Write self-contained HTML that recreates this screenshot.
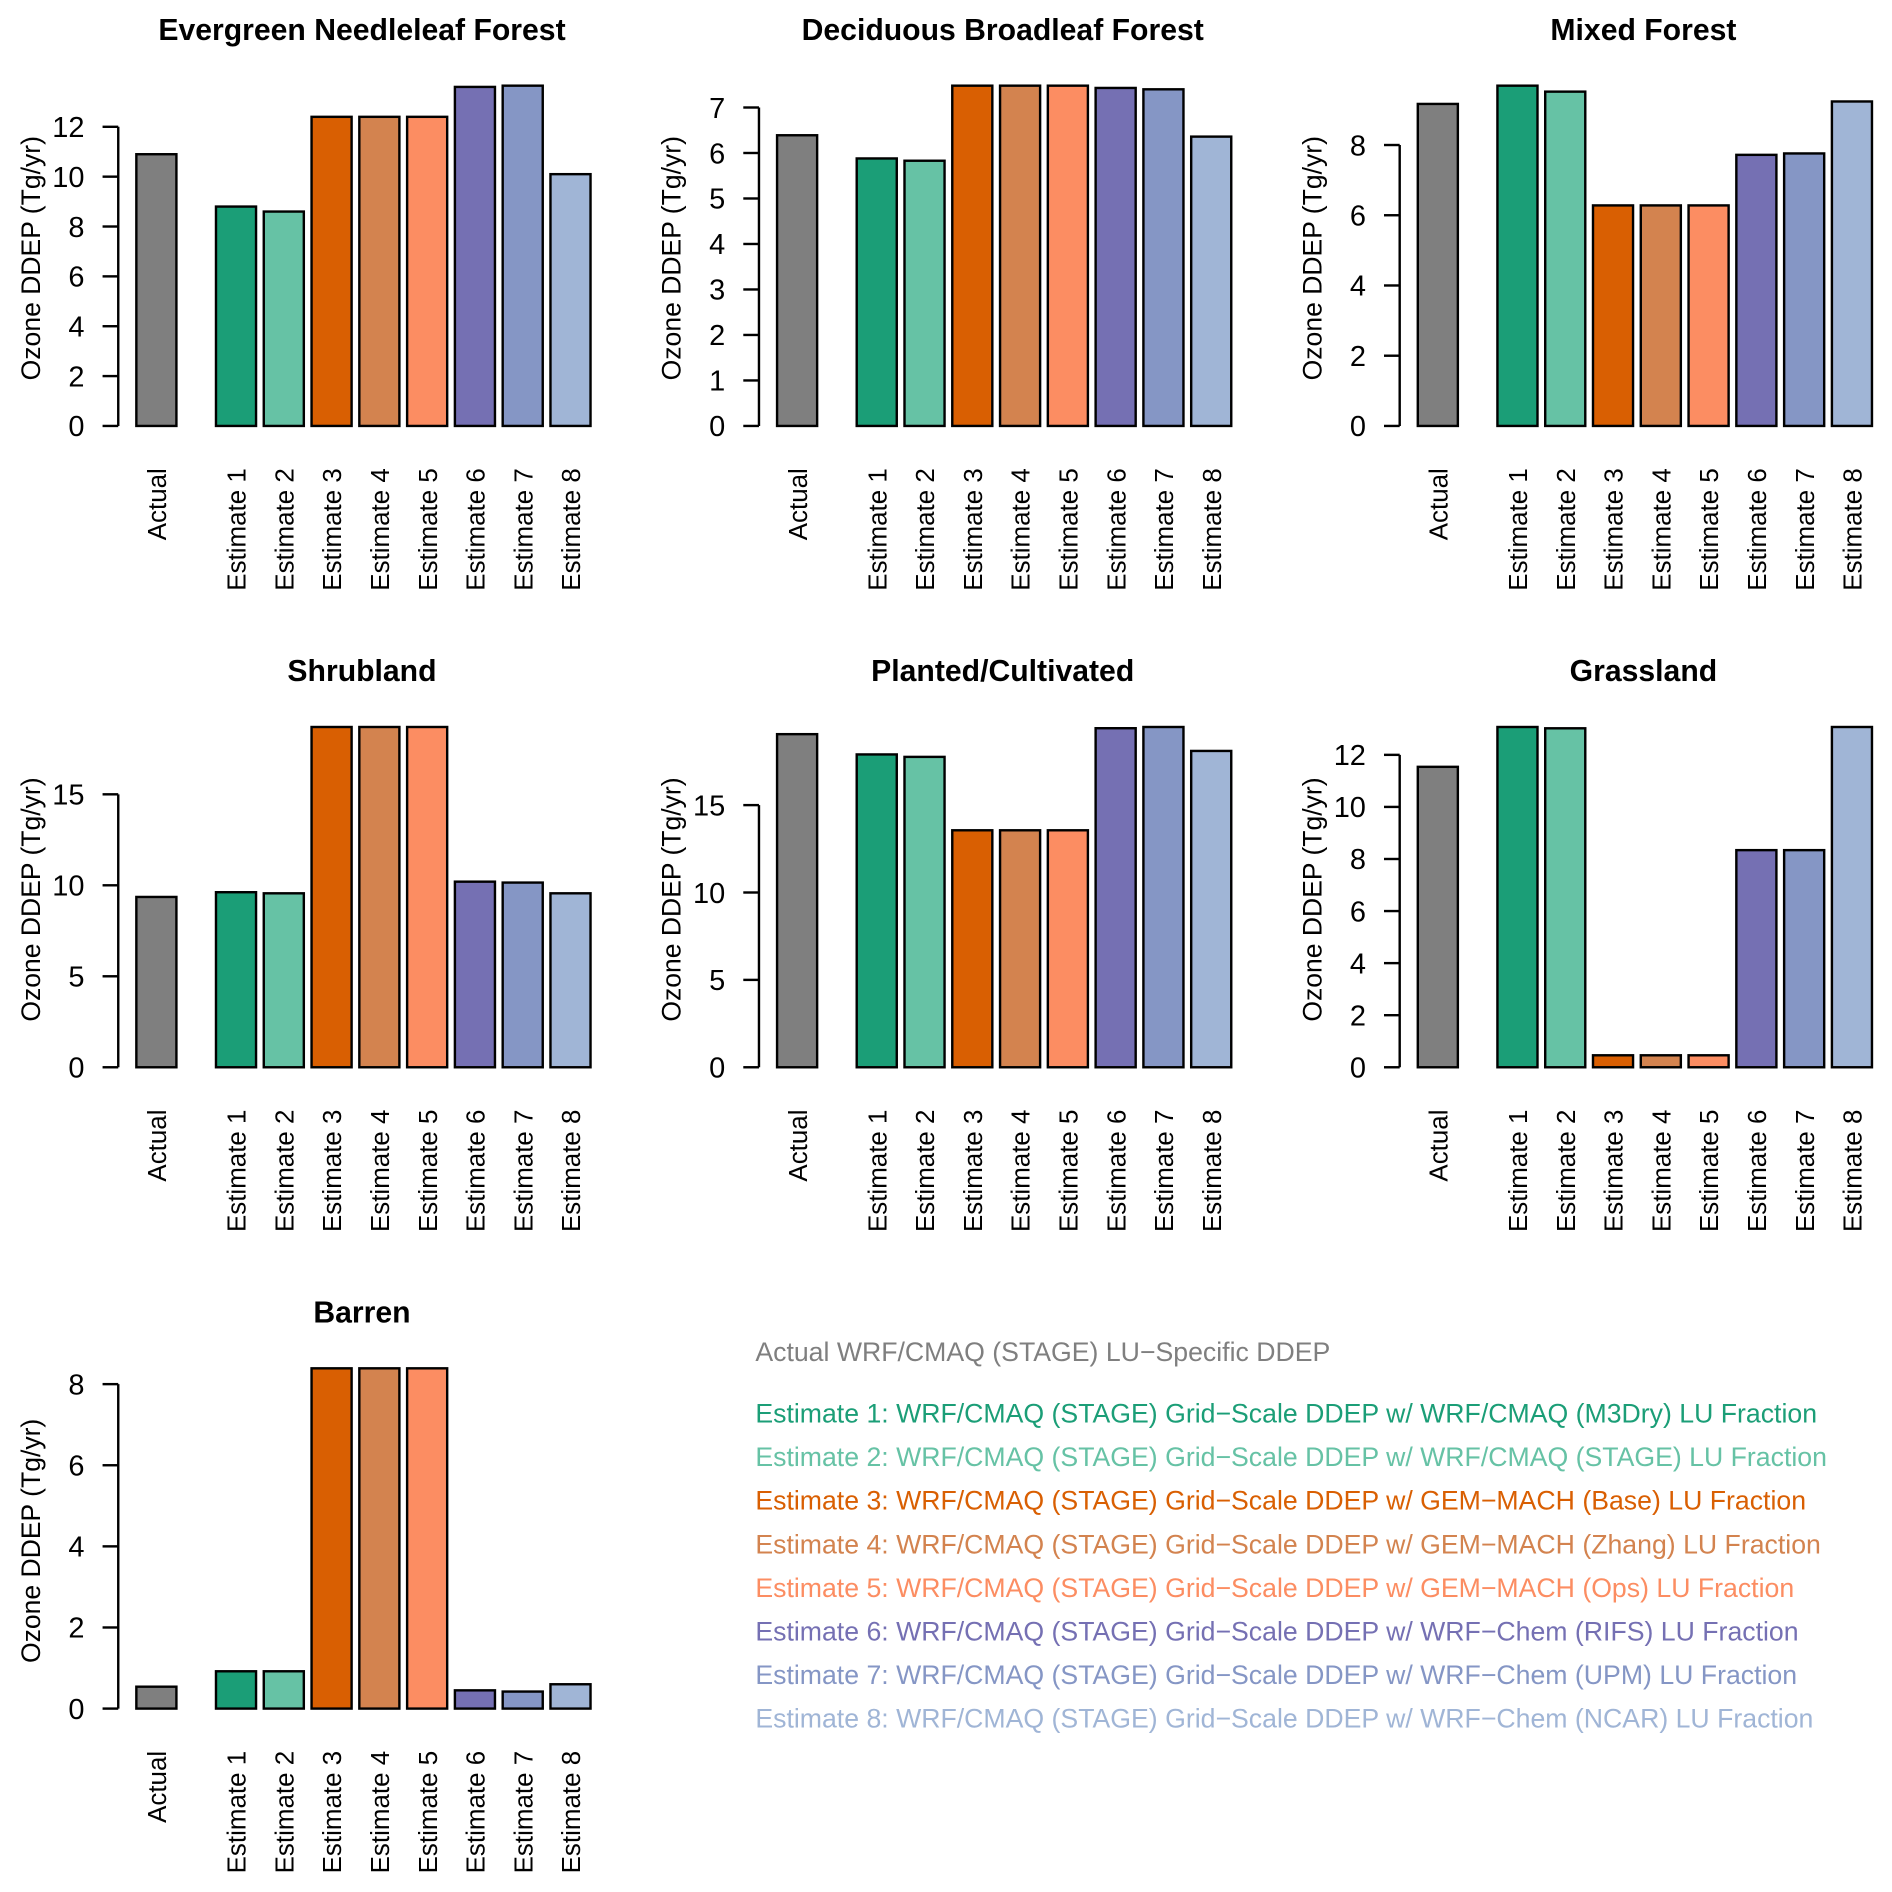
<!DOCTYPE html>
<html><head><meta charset="utf-8"><style>
html,body{margin:0;padding:0;background:#fff}
svg{display:block;font-family:"Liberation Sans",Arial,sans-serif}
</style></head><body>
<svg id="chart" width="1892" height="1892" viewBox="0 0 1568 1568" xmlns="http://www.w3.org/2000/svg"></svg>
<script>
const panelTitles = ["Evergreen Needleleaf Forest","Deciduous Broadleaf Forest","Mixed Forest","Shrubland","Planted/Cultivated","Grassland","Barren"];
const categories = ["Actual","Estimate 1","Estimate 2","Estimate 3","Estimate 4","Estimate 5","Estimate 6","Estimate 7","Estimate 8"];
const valsEvergreen = [10.9,8.8,8.6,12.4,12.4,12.4,13.6,13.65,10.1];
const valsDeciduous = [6.39,5.88,5.83,7.48,7.48,7.48,7.43,7.40,6.36];
const valsMixed = [9.17,9.69,9.52,6.28,6.28,6.28,7.72,7.76,9.24];
const valsShrub = [9.36,9.62,9.56,18.7,18.7,18.7,10.2,10.15,9.56];
const valsPlanted = [19.06,17.9,17.76,13.56,13.56,13.56,19.4,19.47,18.1];
const valsGrass = [11.54,13.07,13.02,0.46,0.46,0.46,8.34,8.34,13.07];
const valsBarren = [0.54,0.92,0.92,8.39,8.39,8.39,0.45,0.42,0.6];
const ticksEvergreen = [0,2,4,6,8,10,12];
const ticksDeciduous = [0,1,2,3,4,5,6,7];
const ticksMixed = [0,2,4,6,8];
const ticksShrub = [0,5,10,15];
const ticksPlanted = [0,5,10,15];
const ticksGrass = [0,2,4,6,8,10,12];
const ticksBarren = [0,2,4,6,8];
const legendLabels = ["Actual WRF/CMAQ (STAGE) LU\u2212Specific DDEP",
"Estimate 1: WRF/CMAQ (STAGE) Grid\u2212Scale DDEP w/ WRF/CMAQ (M3Dry) LU Fraction",
"Estimate 2: WRF/CMAQ (STAGE) Grid\u2212Scale DDEP w/ WRF/CMAQ (STAGE) LU Fraction",
"Estimate 3: WRF/CMAQ (STAGE) Grid\u2212Scale DDEP w/ GEM\u2212MACH (Base) LU Fraction",
"Estimate 4: WRF/CMAQ (STAGE) Grid\u2212Scale DDEP w/ GEM\u2212MACH (Zhang) LU Fraction",
"Estimate 5: WRF/CMAQ (STAGE) Grid\u2212Scale DDEP w/ GEM\u2212MACH (Ops) LU Fraction",
"Estimate 6: WRF/CMAQ (STAGE) Grid\u2212Scale DDEP w/ WRF\u2212Chem (RIFS) LU Fraction",
"Estimate 7: WRF/CMAQ (STAGE) Grid\u2212Scale DDEP w/ WRF\u2212Chem (UPM) LU Fraction",
"Estimate 8: WRF/CMAQ (STAGE) Grid\u2212Scale DDEP w/ WRF\u2212Chem (NCAR) LU Fraction"];
const colors = ["#7f7f7f","#1b9e77","#66c2a5","#d95f02","#d3834f","#fc8d62","#7570b3","#8596c5","#a0b5d6"];

const NS="http://www.w3.org/2000/svg";
const svg=document.getElementById('chart');
function mk(tag,attrs,parent){const e=document.createElementNS(NS,tag);for(const k in attrs)e.setAttribute(k,attrs[k]);(parent||svg).appendChild(e);return e;}

const panels=[[valsEvergreen,ticksEvergreen],[valsDeciduous,ticksDeciduous],[valsMixed,ticksMixed],[valsShrub,ticksShrub],[valsPlanted,ticksPlanted],[valsGrass,ticksGrass],[valsBarren,ticksBarren]];

panels.forEach((p,pi)=>{
  const vals=p[0],ticks=p[1];
  const ox=(pi%3)*531, oy=Math.floor(pi/3)*531.5;
  const base=353+oy;
  const maxV=Math.max(...vals);
  const yScale=v=>base-v*282/maxV;
  const xLeft=i=>ox+113+(i===0?0:66+(i-1)*39.6);
  const bw=33.2;
  const g=mk('g',{});
  
  
  const t=mk('text',{x:ox+300,y:33+oy,'text-anchor':'middle','font-size':25,'font-weight':'bold'},g);
  t.textContent=panelTitles[pi];
  
  
  const yl=mk('text',{transform:`translate(${ox+33},${oy+214}) rotate(-90)`,'text-anchor':'middle','font-size':22},g);
  yl.textContent="Ozone DDEP (Tg/yr)";
  
  
  const ax=mk('line',{x1:ox+98,x2:ox+98,y1:yScale(ticks[0]),y2:yScale(ticks[ticks.length-1]),stroke:'#000','stroke-width':2},g);
  
  
  ticks.forEach(tv=>{
    const y=yScale(tv);
    const tl=mk('line',{x1:ox+85,x2:ox+98,y1:y,y2:y,stroke:'#000','stroke-width':2},g);
    
    
    const tt=mk('text',{x:ox+70,y:y+8.5,'text-anchor':'end','font-size':24},g);
    tt.textContent=tv;
    
    
  });
  vals.forEach((v,i)=>{
    const r=mk('rect',{x:xLeft(i),y:yScale(v),width:bw,height:base-yScale(v),fill:colors[i],stroke:'#000','stroke-width':2},g);
    
    
    const cx=xLeft(i)+bw/2+8;
    const lt=mk('text',{transform:`translate(${cx},${base+35}) rotate(-90)`,'text-anchor':'end','font-size':21.5},g);
    lt.textContent=categories[i];
    
    
  });
});

const lg=mk('g',{});


legendLabels.forEach((s,i)=>{
  const y=i===0?1128:1179+(i-1)*36.1;
  const t=mk('text',{x:626,y:y,'font-size':22.1,fill:colors[i]},lg);
  t.textContent=s;
  
  
});
</script>
</body></html>
